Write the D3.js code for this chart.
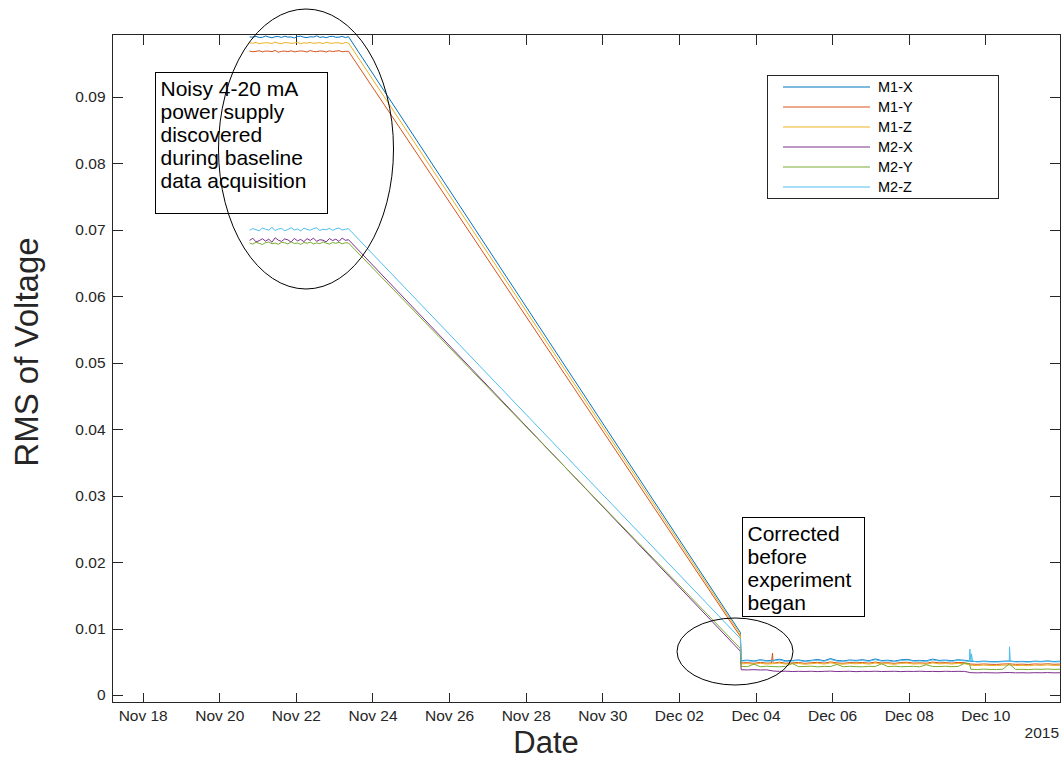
<!DOCTYPE html>
<html>
<head>
<meta charset="utf-8">
<script src="https://cdn.jsdelivr.net/npm/d3@7"></script>
<style>
  body { margin: 0; background: #fff; }
  svg { display: block; font-family: "Liberation Sans", Arial, Helvetica, sans-serif; }
</style>
</head>
<body>
<div id="chart"></div>
<script>
// values are RMS voltage in units of 1e-5 V
const UNIT = 1e-5;

const seriesNames = ["M1-X", "M1-Y", "M1-Z", "M2-X", "M2-Y", "M2-Z"];

// baseline acquisition (noisy supply), sampled every 2 h
const baselineStart = "2015-11-20 19:00";
const baselineStepHours = 2;
const baseM1X = [9902,9898,9910,9893,9896,9915,9900,9889,9905,9907,9894,9912,9899,9901,9886,9908,9913,9897,9892,9904,9900,9918,9895,9903,9890,9906,9911,9896,9898,9909,9893,9904];
const baseM1Y = [9688,9679,9684,9695,9676,9690,9686,9681,9698,9672,9685,9689,9680,9693,9677,9684,9691,9686,9674,9696,9683,9679,9690,9687,9675,9692,9681,9688,9695,9678,9686,9684];
const baseM1Z = [9812,9806,9820,9798,9809,9815,9811,9802,9824,9807,9800,9817,9813,9805,9810,9822,9797,9814,9808,9819,9803,9811,9816,9799,9821,9809,9806,9815,9812,9801,9818,9810];
const baseM2X = [6840,6872,6818,6836,6865,6829,6858,6812,6880,6843,6825,6862,6848,6815,6870,6833,6855,6821,6866,6839,6874,6826,6850,6843,6817,6868,6837,6859,6824,6876,6841,6850];
const baseM2Y = [6800,6784,6812,6795,6778,6806,6816,6790,6799,6782,6811,6804,6786,6819,6793,6801,6780,6808,6797,6814,6787,6803,6790,6817,6799,6783,6809,6796,6812,6788,6805,6800];
const baseM2Z = [6992,7018,7001,6984,7026,7008,6995,7035,6989,7012,7020,6986,7004,7030,6997,7011,6983,7024,7006,6993,7016,7029,6988,7009,7000,7022,6991,7014,7027,6996,7008,7015];

// last reading before the supply was replaced
const rampEndTime = "2015-12-03 14:30";
const rampEnd = [940, 880, 910, 660, 700, 850];

// corrected readings, sampled every 4 h
const steadyStart = "2015-12-03 15:00";
const steadyStepHours = 4;
const steadyM1X = [518,524,512,530,516,521,538,514,519,527,511,522,533,516,548,519,513,526,520,531,515,542,518,523,510,528,536,517,521,514,539,520,525,516,530,522,
                   507,503,509,504,502,508,511,503,506,501,509,505,512,504,507];
const steadyM1Y = [482,487,477,491,480,485,494,478,483,489,476,486,492,480,497,483,477,488,484,490,479,495,482,486,475,489,493,480,484,478,496,483,487,480,490,485,
                   465,461,467,462,460,466,469,461,464,459,467,463,470,462,465];
const steadyM1Z = [468,473,463,477,466,471,480,464,469,475,462,472,478,466,483,469,463,474,470,476,465,481,468,472,461,475,479,466,470,464,482,469,473,466,476,471,
                   447,443,449,444,442,448,451,443,446,441,449,445,452,444,447];
const steadyM2X = [380,377,381,376,379,361,355,358,353,356,354,357,352,356,359,353,355,357,351,356,354,358,353,355,357,352,356,354,358,353,355,352,357,354,356,355,
                   335,333,336,334,332,336,338,333,335,332,336,334,337,333,335];
const steadyM2Y = [430,427,465,425,433,428,424,431,476,426,429,434,423,430,428,460,425,432,427,424,431,429,470,426,433,425,428,431,424,455,429,427,432,426,430,478,
                   387,384,389,385,383,388,468,384,387,382,389,386,391,385,388];
const steadyM2Z = [510,516,504,521,508,513,527,503,511,519,502,514,522,507,535,510,505,517,512,520,506,531,509,514,501,518,526,508,512,505,528,511,516,507,521,513,
                   501,497,503,498,496,502,505,497,500,495,503,499,506,498,501];

// short spikes
const spikes = [
  ["M1-Y", "2015-12-04 10:00", 482], ["M1-Y", "2015-12-04 10:40", 630], ["M1-Y", "2015-12-04 11:20", 479],
  ["M2-Z", "2015-12-09 14:00", 505], ["M2-Z", "2015-12-09 14:20", 690], ["M2-Z", "2015-12-09 15:20", 620], ["M2-Z", "2015-12-09 16:00", 510],
  ["M2-Z", "2015-12-10 14:40", 505], ["M2-Z", "2015-12-10 15:10", 725], ["M2-Z", "2015-12-10 15:40", 508],
  ["M2-Y", "2015-12-09 14:10", 470], ["M2-Y", "2015-12-09 14:50", 390]
];

const xTicks = ["2015-11-18","2015-11-20","2015-11-22","2015-11-24","2015-11-26","2015-11-28","2015-11-30",
                "2015-12-02","2015-12-04","2015-12-06","2015-12-08","2015-12-10"];
const yTicks = [0, 0.01, 0.02, 0.03, 0.04, 0.05, 0.06, 0.07, 0.08, 0.09];

const colors = ["#0072BD", "#D95319", "#EDB120", "#7E2F8E", "#77AC30", "#4DBEEE"];

const baseArrays = [baseM1X, baseM1Y, baseM1Z, baseM2X, baseM2Y, baseM2Z];
const steadyArrays = [steadyM1X, steadyM1Y, steadyM1Z, steadyM2X, steadyM2Y, steadyM2Z];

const parse = d3.timeParse("%Y-%m-%d %H:%M");
const parseDay = d3.timeParse("%Y-%m-%d");

const series = seriesNames.map((name, k) => {
  const pts = [];
  baseArrays[k].forEach((v, i) => pts.push({t: d3.timeHour.offset(parse(baselineStart), i * baselineStepHours), v: v * UNIT}));
  pts.push({t: parse(rampEndTime), v: rampEnd[k] * UNIT});
  steadyArrays[k].forEach((v, i) => pts.push({t: d3.timeHour.offset(parse(steadyStart), i * steadyStepHours), v: v * UNIT}));
  spikes.filter(s => s[0] === name).forEach(s => pts.push({t: parse(s[1]), v: s[2] * UNIT}));
  pts.sort((a, b) => a.t - b.t);
  return {name, color: colors[k], pts};
});

const width = 1061, height = 761;
const plotLeft = 112.5, plotRight = 1060, plotTop = 34.5, plotBottom = 702.5;

const svg = d3.select("#chart").append("svg")
    .attr("width", width)
    .attr("height", height);

const x = d3.scaleTime()
    .domain([parse("2015-11-17 05:05"), parse("2015-12-11 22:48")])
    .range([plotLeft, plotRight]);
const y = d3.scaleLinear()
    .domain([-0.00113, 0.09938])
    .range([plotBottom, plotTop]);

const axisColor = "#262626";

// axes with inward ticks (matlab style)
svg.append("g")
    .attr("transform", `translate(0,${plotBottom})`)
    .call(d3.axisBottom(x).tickValues(xTicks.map(parseDay)).tickFormat(d3.timeFormat("%b %d")).tickSize(-10).tickPadding(7));
svg.append("g")
    .attr("transform", `translate(0,${plotTop})`)
    .call(d3.axisTop(x).tickValues(xTicks.map(parseDay)).tickFormat("").tickSize(-10));
svg.append("g")
    .attr("transform", `translate(${plotLeft},0)`)
    .call(d3.axisLeft(y).tickValues(yTicks).tickFormat(d => d === 0 ? "0" : d3.format(".2f")(d)).tickSize(-10).tickPadding(7));
svg.append("g")
    .attr("transform", `translate(${plotRight},0)`)
    .call(d3.axisRight(y).tickValues(yTicks).tickFormat("").tickSize(-10));

svg.selectAll(".domain").remove();
svg.selectAll(".tick line").attr("stroke", axisColor).attr("shape-rendering", "crispEdges");
svg.selectAll(".tick text")
    .attr("fill", axisColor)
    .style("font-size", "15.5px")
    .style("font-family", "'Liberation Sans', Arial, sans-serif");

svg.append("rect")
    .attr("x", plotLeft).attr("y", plotTop)
    .attr("width", plotRight - plotLeft).attr("height", plotBottom - plotTop)
    .attr("fill", "none")
    .attr("stroke", axisColor)
    .attr("shape-rendering", "crispEdges");

svg.append("text")
    .attr("x", 1059).attr("y", 738)
    .attr("text-anchor", "end")
    .attr("fill", axisColor)
    .style("font-size", "15.5px")
    .text("2015");

// axis titles
svg.append("text")
    .attr("x", 546).attr("y", 753)
    .attr("text-anchor", "middle")
    .attr("fill", axisColor)
    .style("font-size", "31px")
    .text("Date");
svg.append("text")
    .attr("transform", "translate(38,352) rotate(-90)")
    .attr("text-anchor", "middle")
    .attr("fill", axisColor)
    .style("font-size", "33px")
    .text("RMS of Voltage");

// data lines
const line = d3.line()
    .x(d => x(d.t))
    .y(d => y(d.v));

svg.append("g")
  .selectAll("path")
  .data(series)
  .join("path")
    .attr("fill", "none")
    .attr("stroke", d => d.color)
    .attr("stroke-width", 1)
    .attr("stroke-linejoin", "round")
    .attr("d", d => line(d.pts));

// annotation boxes
const notes = [
  {x: 155.5, y: 72.5, w: 172, h: 141, lines: ["Noisy 4-20 mA", "power supply", "discovered", "during baseline", "data acquisition"]},
  {x: 742.5, y: 517.5, w: 122, h: 99, lines: ["Corrected", "before", "experiment", "began"]}
];
notes.forEach(n => {
  const g = svg.append("g");
  g.append("rect")
      .attr("x", n.x).attr("y", n.y)
      .attr("width", n.w).attr("height", n.h)
      .attr("fill", "none")
      .attr("stroke", "#000")
      .attr("shape-rendering", "crispEdges");
  g.append("text")
      .style("font-size", "21px")
      .attr("fill", "#000")
    .selectAll("tspan")
    .data(n.lines)
    .join("tspan")
      .attr("x", n.x + 5)
      .attr("y", (d, i) => n.y + 23 + i * 23)
      .text(d => d);
});

// ellipses
svg.append("ellipse")
    .attr("cx", 306).attr("cy", 149)
    .attr("rx", 87.5).attr("ry", 140)
    .attr("fill", "none").attr("stroke", "#000");
svg.append("ellipse")
    .attr("cx", 735).attr("cy", 651.5)
    .attr("rx", 58).attr("ry", 33.5)
    .attr("fill", "none").attr("stroke", "#000");

// legend
const lg = svg.append("g");
lg.append("rect")
    .attr("x", 767.5).attr("y", 75.5)
    .attr("width", 231).attr("height", 123)
    .attr("fill", "#fff")
    .attr("stroke", axisColor)
    .attr("shape-rendering", "crispEdges");
const rows = lg.selectAll("g.row")
  .data(series)
  .join("g")
    .attr("class", "row")
    .attr("transform", (d, i) => `translate(0,${87 + i * 20})`);
rows.append("line")
    .attr("x1", 783).attr("x2", 870)
    .attr("stroke", d => d.color);
rows.append("text")
    .attr("x", 878).attr("dy", "0.35em")
    .style("font-size", "14.5px")
    .attr("fill", "#000")
    .text(d => d.name);
</script>
</body>
</html>
